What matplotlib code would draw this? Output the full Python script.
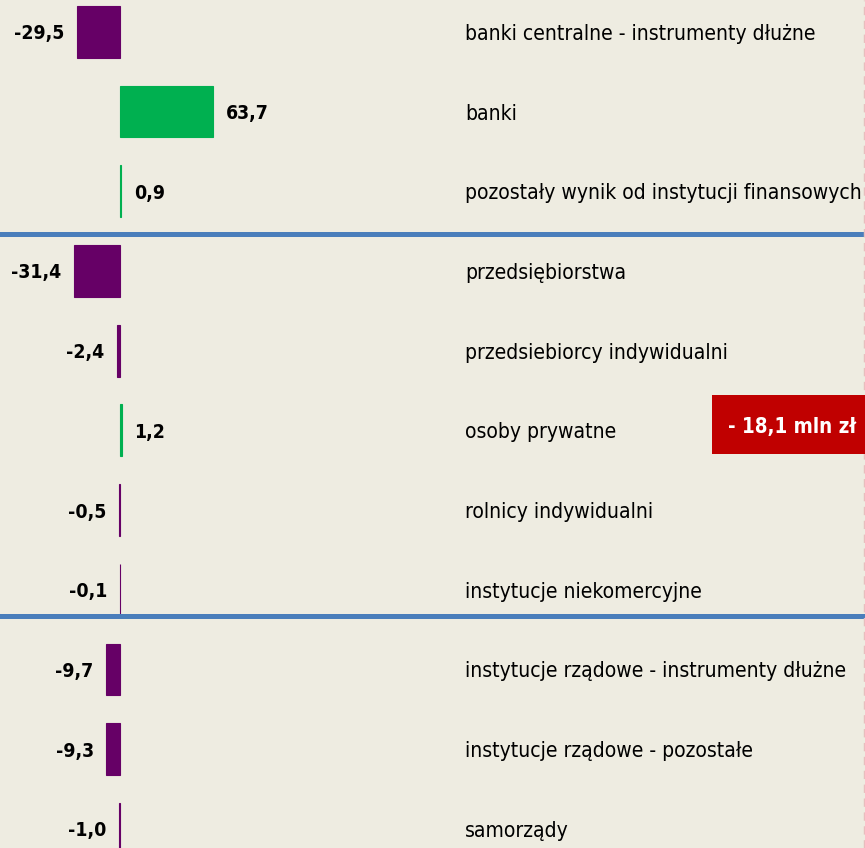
import matplotlib.pyplot as plt
from matplotlib.patches import Rectangle
from matplotlib import font_manager as fm

# sektory i zmiana (mln zl)
categories = [
    "banki centralne - instrumenty dłużne",
    "banki",
    "pozostały wynik od instytucji finansowych",
    "przedsiębiorstwa",
    "przedsiebiorcy indywidualni",
    "osoby prywatne",
    "rolnicy indywidualni",
    "instytucje niekomercyjne",
    "instytucje rządowe - instrumenty dłużne",
    "instytucje rządowe - pozostałe",
    "samorządy",
]
values = [-29.5, 63.7, 0.9, -31.4, -2.4, 1.2, -0.5, -0.1, -9.7, -9.3, -1.0]
total_label = "- 18,1 mln zł"

bg = "#EEECE1"
purple = "#660066"
green = "#00B050"
sep_blue = "#4A7EBB"


def weight_num(w):
    if isinstance(w, (int, float)):
        return int(w)
    return fm.weight_dict.get(str(w).lower(), 400)


def narrow_font(bold):
    # szukamy waskiego kroju (Arial Narrow w oryginale)
    best = None
    for f in fm.fontManager.ttflist:
        key = (f.name + " " + f.fname).lower()
        if not ("narrow" in key or "condensed" in key or "condensed" in str(f.stretch)):
            continue
        if f.style != "normal":
            continue
        w = weight_num(f.weight)
        if bold and w < 600:
            continue
        if not bold and (w < 350 or w > 500):
            continue
        score = 0
        if "liberation" in key:
            score += 3
        if "dejavu" in key:
            score += 2
        if best is None or score > best[0]:
            best = (score, f.fname)
    if best is None:
        return fm.FontProperties(family="Liberation Sans",
                                 weight="bold" if bold else "normal")
    return fm.FontProperties(fname=best[1])


reg_fp = narrow_font(False)
bold_fp = narrow_font(True)

fig = plt.figure(figsize=(8.65, 8.48), dpi=100, facecolor=bg)
ax = fig.add_axes([0, 0, 1, 1])
ax.set_facecolor(bg)

rows = list(range(len(categories)))
colors = [green if v > 0 else purple for v in values]
ax.barh(rows, values, height=0.65, color=colors, edgecolor=colors, linewidth=0.8)

ax.set_xlim(-82.2, 510.3)
ax.set_ylim(10.24, -0.40)
ax.axis('off')

renderer = fig.canvas.get_renderer()


def fit_size(texts, target_px):
    # dobiera rozmiar tak, by najszerszy tekst mial zadana szerokosc
    widest = max(t.get_window_extent(renderer).width for t in texts)
    size = texts[0].get_fontsize() * target_px / widest
    for t in texts:
        t.set_fontsize(size)


# wartosci przy slupkach
value_texts = []
for i, v in enumerate(values):
    txt = f"{v:.1f}".replace('.', ',')
    off = 9 if v >= 0 else -9
    t = ax.annotate(txt, (v, i), xytext=(off, 0), textcoords='offset points',
                    ha='left' if v >= 0 else 'right', va='center_baseline',
                    fontproperties=bold_fp, fontsize=20, color='black')
    value_texts.append(t)
fit_size([value_texts[0]], 50)
for t in value_texts:
    t.set_fontsize(value_texts[0].get_fontsize())

# nazwy sektorow
tr = ax.get_yaxis_transform()
name_texts = []
for i, name in enumerate(categories):
    t = ax.text(0.5376, i, name, transform=tr, ha='left', va='center_baseline',
                fontproperties=reg_fp, fontsize=20, color='black')
    name_texts.append(t)
fit_size(name_texts, 396)

# linie oddzielajace grupy
for y in (2.535, 7.33):
    ax.axhline(y, xmin=0, xmax=0.9965, color=sep_blue, linewidth=3.6)

ax.axvline(509.5, color='#E8BDBD', linewidth=1, linestyle=(0, (6, 4)))

# ramka z wynikiem
fig.patches.append(Rectangle((712 / 865, 1 - 454 / 848), 160 / 865, 59 / 848,
                             transform=fig.transFigure, facecolor='#C00000',
                             edgecolor='none', zorder=5))
tot = fig.text(728 / 865, 1 - 425 / 848, total_label, ha='left',
               va='center_baseline', fontproperties=bold_fp, fontsize=20,
               color='white', zorder=6)
fit_size([tot], 129)

fig.savefig('out.png', dpi=100, facecolor=bg)
